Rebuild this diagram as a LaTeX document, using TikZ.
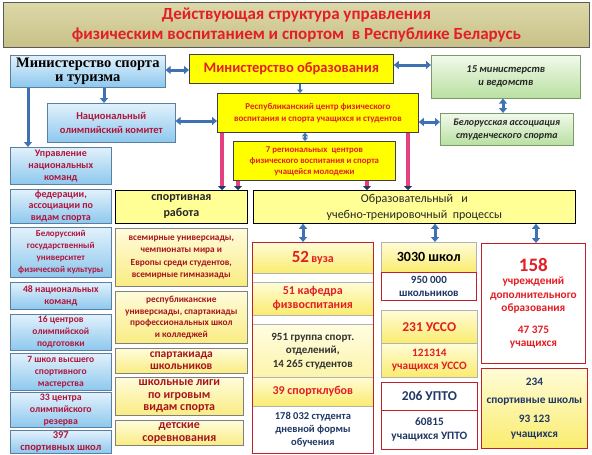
\documentclass[tikz,border=0pt]{standalone}
\usepackage{fontspec}
\setmainfont{Carlito}
\newfontfamily\tnr{Liberation Serif}
\usetikzlibrary{arrows.meta}
\definecolor{redt}{HTML}{E31E24}
\definecolor{drt}{HTML}{A8141E}
\definecolor{crim}{HTML}{B0163C}
\definecolor{navyt}{HTML}{1F3864}
\definecolor{arrblue}{HTML}{3E72B5}
\definecolor{pinkc}{HTML}{E4407E}
\definecolor{frame}{HTML}{C0202A}
\definecolor{blueedge}{HTML}{5A7FA0}
\definecolor{greenedge}{HTML}{7A9A6A}
\newcommand\fs[2]{\fontsize{#1}{#2}\selectfont}
\newcommand\bx[7]{\node[#6, anchor=north west, minimum width={(#4)-(#2)}, minimum height={(#5)-(#3)}] (#1) at (#2,#3) {#7};}
\tikzset{
  base/.style={inner sep=1pt, align=center, font=\bfseries},
  titlebox/.style={base, draw=gray!70!black, line width=1pt, top color={rgb,255:red,220;green,216;blue,168}, middle color={rgb,255:red,248;green,246;blue,220}, bottom color={rgb,255:red,200;green,192;blue,136}, text=redt, font=\bfseries\fs{17}{20.5}},
  bluebox/.style={base, draw=blueedge, line width=0.6pt, top color={rgb,255:red,226;green,241;blue,251}, bottom color={rgb,255:red,141;green,200;blue,238}, text=crim},
  yelbox/.style={base, draw=black!75, line width=0.8pt, fill={rgb,255:red,255;green,255;blue,0}, text=redt},
  lyelbox/.style={base, draw=black, line width=0.8pt, fill={rgb,255:red,255;green,255;blue,150}, text=black!85},
  midbox/.style={base, draw=gray, line width=0.6pt, top color={rgb,255:red,255;green,252;blue,220}, bottom color={rgb,255:red,249;green,236;blue,130}, text=drt},
  grnbox/.style={base, draw=greenedge, line width=0.6pt, top color={rgb,255:red,242;green,249;blue,235}, bottom color={rgb,255:red,184;green,224;blue,160}, text=black!85, font=\bfseries\itshape},
  wbox/.style={base, draw=frame, line width=0.8pt, fill=white, text=navyt},
  ygbox/.style={base, draw=frame, line width=0.6pt, top color={rgb,255:red,255;green,252;blue,215}, bottom color={rgb,255:red,250;green,236;blue,110}, text=redt},
  darr/.style={draw=arrblue, line width=3pt, {Triangle[width=8pt,length=5pt]}-{Triangle[width=8pt,length=5pt]}},
  sarr/.style={draw=arrblue, line width=3pt, -{Triangle[width=8pt,length=5pt]}},
  tarr/.style={draw=arrblue, line width=2pt, {Triangle[width=6pt,length=3.5pt]}-{Triangle[width=6pt,length=3.5pt]}},
  tsarr/.style={draw=arrblue, line width=2pt, -{Triangle[width=6pt,length=3.5pt]}},
  pinkline/.style={draw=pinkc, line width=4pt, -{Triangle[width=8pt,length=4pt,color=navyt]}},
}
\begin{document}
\begin{tikzpicture}[x=1pt,y=-1pt]
\useasboundingbox[fill=white] (0,0) rectangle (592,455);
% title
\bx{title}{3}{2}{589}{47}{titlebox}{Действующая структура управления\\физическим воспитанием и спортом~~в Республике Беларусь}
% top row
\bx{minsport}{10}{55}{165}{87}{bluebox, inner sep=0pt, text=black, font=\tnr\bfseries\fs{14.5}{13.5}}{Министерство спорта\\и туризма}
\bx{minobr}{189}{54}{393}{83}{yelbox, font=\bfseries\fs{14.5}{16}}{Министерство образования}
\bx{min15}{431}{55}{580}{98}{grnbox, font=\bfseries\itshape\fs{10.5}{13}}{15 министерств\\и ведомств}
\bx{bass}{440}{113}{573}{145}{grnbox, font=\bfseries\itshape\fs{10}{13}}{Белорусская ассоциация\\студенческого спорта}
\bx{respc}{217}{93}{418}{132}{yelbox, font=\bfseries\fs{9}{12.5}}{Республиканский центр физического\\воспитания и спорта учащихся и студентов}
\bx{nok}{47}{103}{175}{142}{bluebox, font=\bfseries\fs{10.5}{14}}{Национальный\\олимпийский комитет}
\bx{reg7}{233}{141}{395}{180}{yelbox, font=\bfseries\fs{8.8}{11}}{7 региональных~~центров\\физического воспитания и спорта\\учащейся молодежи}
% left column
\bx{upr}{10}{147}{111}{184}{bluebox, font=\bfseries\fs{10}{12}}{Управление\\национальных\\команд}
\bx{fed}{10}{189}{111}{223}{bluebox, font=\bfseries\fs{10}{11.5}}{федерации,\\ассоциации по\\видам спорта}
\bx{bgu}{10}{227}{111}{277}{bluebox, font=\bfseries\fs{9}{12}}{Белорусский\\государственный\\университет\\физической культуры}
\bx{nat48}{10}{282}{111}{309}{bluebox, font=\bfseries\fs{9.8}{12}}{48 национальных\\команд}
\bx{c16}{10}{314}{111}{350}{bluebox, font=\bfseries\fs{9.5}{12}}{16 центров\\олимпийской\\подготовки}
\bx{sh7}{10}{353}{111}{390}{bluebox, font=\bfseries\fs{9.5}{12}}{7 школ высшего\\спортивного\\мастерства}
\bx{c33}{10}{392}{111}{427}{bluebox, font=\bfseries\fs{9.8}{12}}{33 центра\\олимпийского\\резерва}
\bx{s397}{10}{430}{111}{453}{bluebox, font=\bfseries\fs{10.5}{11.5}}{397\\спортивных школ}
% second level
\bx{sport}{115}{190}{247}{223}{lyelbox, font=\bfseries\fs{12}{16}}{спортивная\\работа}
\bx{obr}{253}{190}{575}{223}{lyelbox, font=\fs{12}{16}}{Образовательный~~~и\\учебно-тренировочный~~процессы}
% middle column
\bx{m1}{115}{228}{247}{286}{midbox, font=\bfseries\fs{9.3}{12.5}}{всемирные универсиады,\\чемпионаты мира и\\Европы среди студентов,\\всемирные гимназиады}
\bx{m2}{115}{291}{247}{343}{midbox, font=\bfseries\fs{9.3}{11.5}}{республиканские\\универсиады, спартакиады\\профессиональных школ\\и колледжей}
\bx{m3}{115}{348}{247}{373}{midbox, font=\bfseries\fs{11.5}{12.5}}{спартакиада\\школьников}
\bx{m4}{115}{377}{243}{415}{midbox, font=\bfseries\fs{12}{12.5}}{школьные лиги\\по игровым\\видам спорта}
\bx{m5}{115}{420}{243}{445}{midbox, font=\bfseries\fs{12}{12.5}}{детские\\соревнования}
% vuz column
\bx{v1}{252}{242}{373}{273}{ygbox, draw=gray!60}{{\fs{17}{17}52} {\fs{12}{12}вуза}}
\bx{v2}{252}{282}{373}{315}{ygbox, draw=gray!60, font=\bfseries\fs{12}{14}}{51 кафедра\\физвоспитания}
\bx{v3}{252}{324}{373}{377}{ygbox, draw=gray!60, text=black!80, top color={rgb,255:red,255;green,253;blue,225}, bottom color={rgb,255:red,252;green,244;blue,170}, font=\bfseries\fs{11}{13.5}}{951 группа спорт.\\отделений,\\14 265 студентов}
\bx{v4}{252}{377}{373}{406}{ygbox, draw=gray!60, font=\bfseries\fs{12}{13}}{39 спортклубов}
\bx{v5}{252}{406}{373}{453}{wbox, draw=gray!60, font=\bfseries\fs{10.5}{13}}{178 032 студента\\дневной формы\\обучения}
\draw[frame, line width=0.9pt] (v1.north west) rectangle (v5.south east);
% school column
\bx{sch}{381}{242}{476}{272}{ygbox, draw=gray!60, text=black, font=\bfseries\fs{14}{15}}{3030 школ}
\bx{sch2}{381}{272}{476}{300}{wbox, font=\bfseries\fs{11}{12.5}}{950 000\\школьников}
\bx{usso}{381}{310}{477}{343}{ygbox, draw=gray!60, font=\bfseries\fs{13.5}{15}}{231 УССО}
\bx{usso2}{381}{343}{477}{377}{ygbox, draw=gray!60, font=\bfseries\fs{11.3}{13}}{121314\\учащихся УССО}
\bx{upto}{381}{382}{477}{410}{wbox, font=\bfseries\fs{13.5}{15}}{206 УПТО}
\bx{upto2}{381}{410}{477}{449}{wbox, font=\bfseries\fs{11.3}{14}}{60815\\учащихся УПТО}
% right column
\bx{d158}{481}{243}{585}{363}{wbox, text=redt, font=\bfseries\fs{11.3}{13.5}}{{\fs{19}{19}158}\\учреждений\\дополнительного\\образования\\[8pt]47 375\\учащихся}
\bx{s234}{481}{368}{587}{448}{ygbox, draw=frame, line width=0.8pt, text=navyt, font=\bfseries\fs{11.3}{18}}{234\\спортивные школы\\[1pt]93 123\\[-3pt]учащихся}
% blue arrows
\draw[darr] (minsport.east |- 0,70) -- (minobr.west |- 0,70);
\draw[darr] (minobr.east |- 0,65) -- (min15.west |- 0,65);
\draw[darr] (min15.south -| 503,0) -- (bass.north -| 503,0);
\draw[darr] (respc.east |- 0,122) -- (bass.west |- 0,122);
\draw[darr] (nok.east |- 0,121) -- (respc.west |- 0,121);
\draw[sarr] (minsport.south -| 104,0) -- (nok.north -| 104,0);
\draw[sarr] (minsport.south -| 28,0) -- (upr.north -| 28,0);
\draw[tsarr] (minobr.south -| 300,0) -- (respc.north -| 300,0);
\draw[tarr] (respc.south -| 305,0) -- (reg7.north -| 305,0);
\draw[darr] (obr.south -| 303,0) -- (v1.north -| 303,0);
\draw[darr] (obr.south -| 435,0) -- (sch.north -| 435,0);
\draw[darr] (obr.south -| 536,0) -- (d158.north -| 536,0);
% pink connectors
\draw[pinkline] (respc.south -| 222,0) -- (sport.north -| 222,0);
\draw[pinkline] (reg7.south -| 238,0) -- (sport.north -| 238,0);
\draw[pinkline] (reg7.south -| 367,0) -- (obr.north -| 367,0);
\draw[pinkline] (respc.south -| 408,0) -- (obr.north -| 408,0);
\end{tikzpicture}
\end{document}
